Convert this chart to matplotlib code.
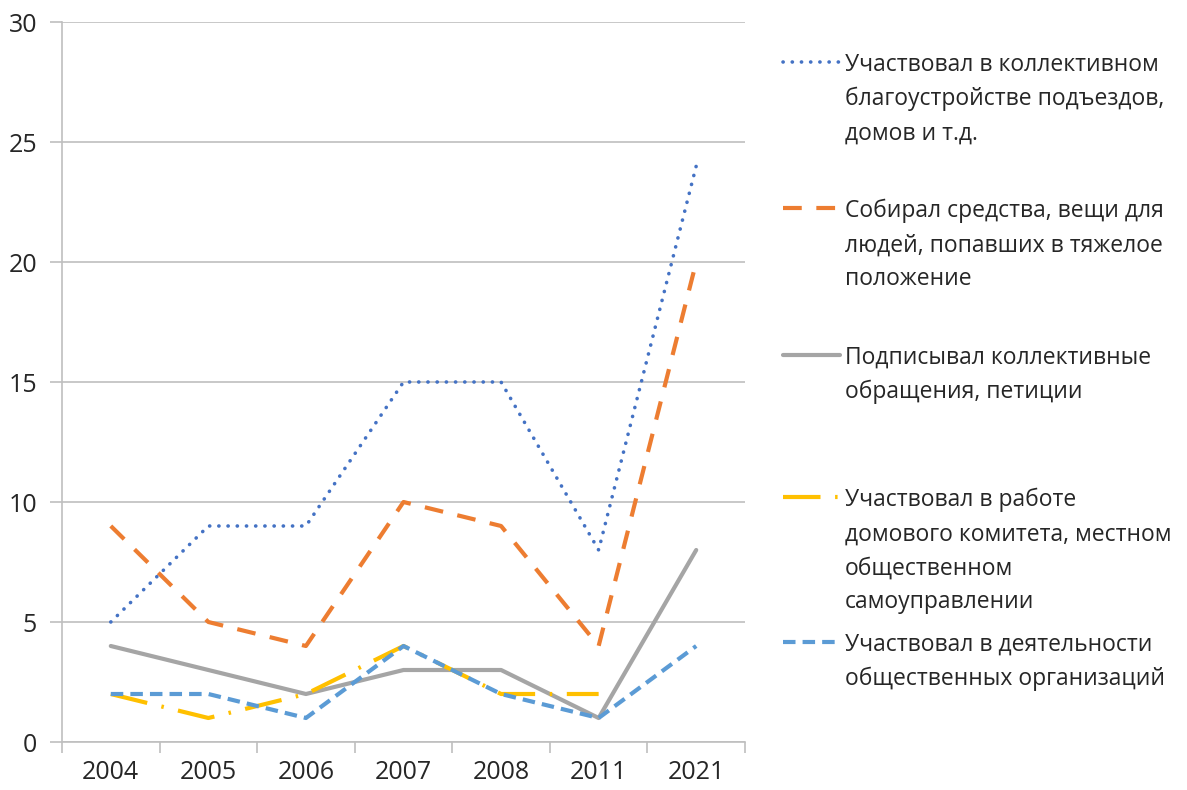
import numpy as np
import matplotlib.pyplot as plt
from matplotlib.lines import Line2D

plt.rcParams["font.family"] = ["Open Sans", "DejaVu Sans"]

YEARS = ["2004", "2005", "2006", "2007", "2008", "2011", "2021"]

improve = [5, 9, 9, 15, 15, 8, 24]
collect = [9, 5, 4, 10, 9, 4, 20]
petition = [4, 3, 2, 3, 3, 1, 8]
committee = [2, 1, 2, 4, 2, 2, np.nan]
organizations = [2, 2, 1, 4, 2, 1, 4]

LABELS = [
    "Участвовал в коллективном\nблагоустройстве подъездов,\nдомов и т.д.",
    "Собирал средства, вещи для\nлюдей, попавших в тяжелое\nположение",
    "Подписывал коллективные\nобращения, петиции",
    "Участвовал в работе\nдомового комитета, местном\nобщественном\nсамоуправлении",
    "Участвовал в деятельности\nобщественных организаций",
]

TEXT = "#262626"
GRID = "#BFBFBF"

STYLES = [
    dict(color="#4472C4", lw=2.6, ls=(0, (0.05, 2.5)), dash_capstyle="round"),
    dict(color="#ED7D31", lw=3, ls=(0, (4.5, 3.5)), dash_capstyle="butt"),
    dict(color="#A5A5A5", lw=3, ls="-", solid_capstyle="round"),
    dict(color="#FFC000", lw=3, ls=(0, (9, 3.5, 0.6, 3.5)), dash_capstyle="butt"),
    dict(color="#5B9BD5", lw=3, ls=(0, (3, 1.7)), dash_capstyle="butt"),
]
SERIES = [improve, collect, petition, committee, organizations]

fig = plt.figure(figsize=(11.87, 7.90), dpi=100)
ax = fig.add_axes([62 / 1187, 1 - 742 / 790, (745 - 62) / 1187, (742 - 22) / 790])

x = np.arange(len(YEARS))
for vals, st in zip(SERIES, STYLES):
    ax.plot(x, vals, **st)

ax.set_xlim(-0.5, len(YEARS) - 0.5)
ax.set_ylim(0, 30)
ax.set_yticks(range(0, 31, 5))
ax.set_xticks(x)
ax.set_xticklabels(YEARS)
ax.set_xticks(np.arange(-0.5, len(YEARS)), minor=True)
ax.yaxis.grid(True, color=GRID, lw=1.2)
ax.set_axisbelow(True)
for side in ["top", "right"]:
    ax.spines[side].set_visible(False)
for side in ["left", "bottom"]:
    ax.spines[side].set_color(GRID)
    ax.spines[side].set_linewidth(1.2)
ax.tick_params(axis="y", length=9, width=1.2, color=GRID, labelsize=18, labelcolor=TEXT, pad=9)
ax.tick_params(axis="x", which="major", length=0, labelsize=18, labelcolor=TEXT, pad=13)
ax.tick_params(axis="x", which="minor", length=8, width=1.2, color=GRID)

# legend drawn by hand so each entry sits where the original puts it
legend_y = [62, 208, 355, 497, 642]
for y, label, st in zip(legend_y, LABELS, STYLES):
    yf = 1 - y / 790
    fig.add_artist(Line2D([783 / 1187, 840 / 1187], [yf, yf], transform=fig.transFigure, **st))
    fig.text(845 / 1187, yf + 9 / 790, label, color=TEXT, fontsize=16.5,
             va="top", ha="left", linespacing=1.55)

fig.savefig("out.png", dpi=100, facecolor="white")
